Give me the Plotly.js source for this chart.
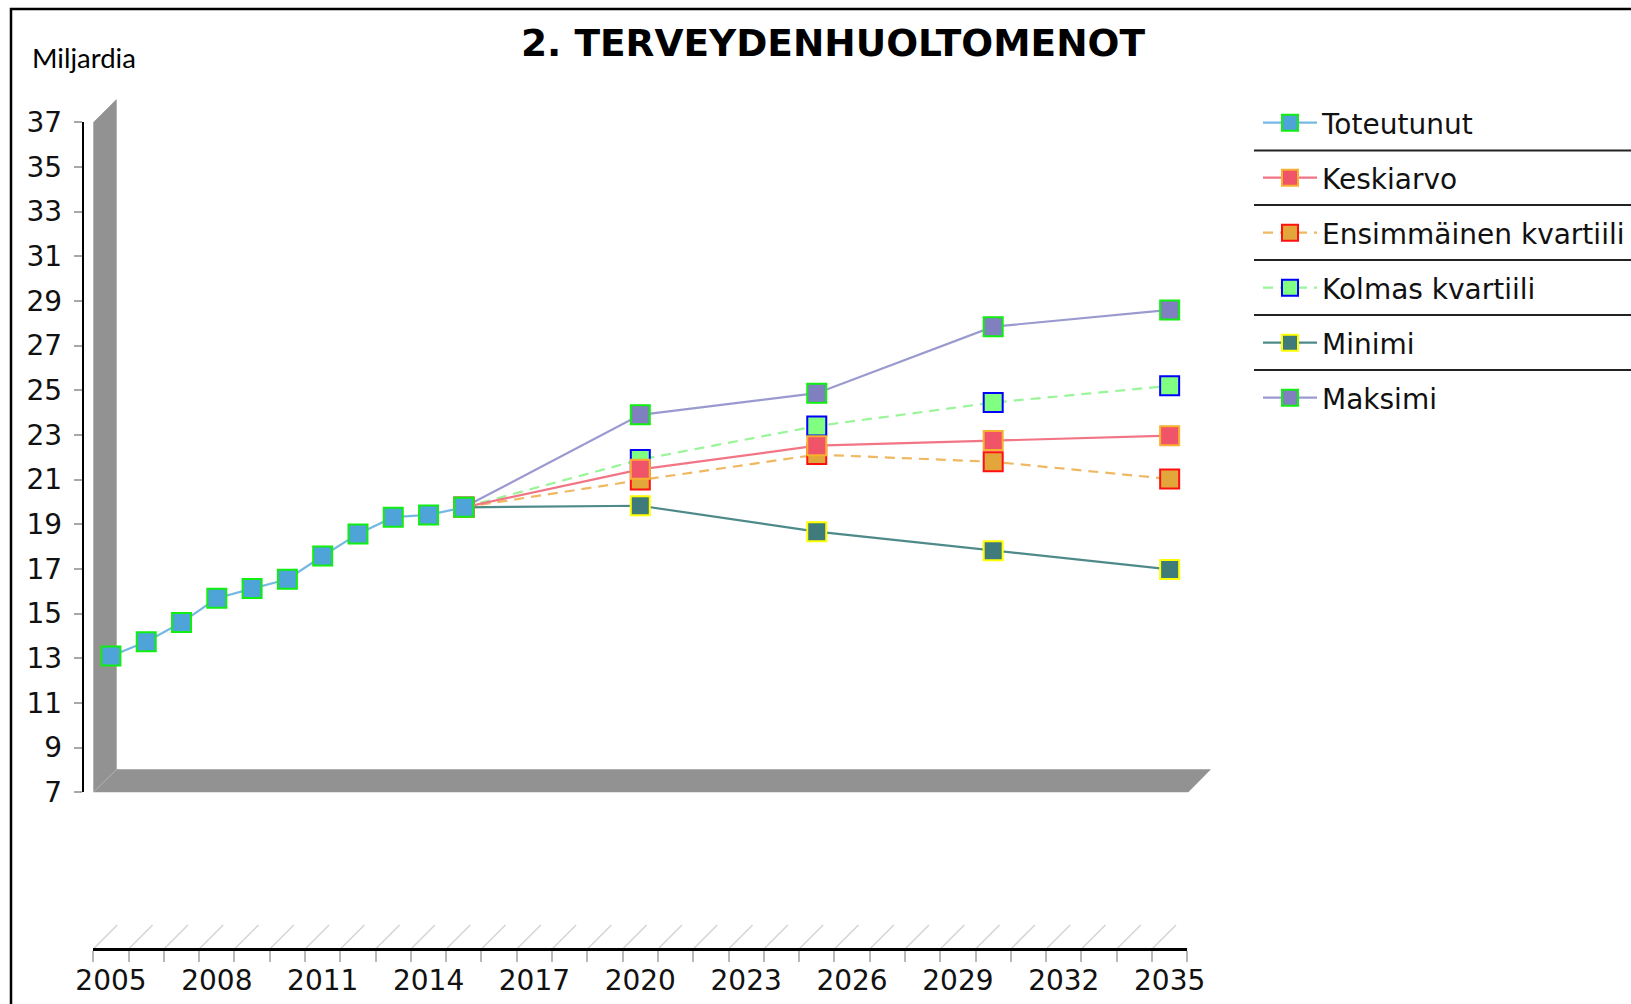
<!DOCTYPE html>
<html>
<head>
<meta charset="utf-8">
<script src="https://cdn.plot.ly/plotly-3.0.1.min.js"></script>
<style>html,body{margin:0;padding:0;background:#fff;}#chart{width:1631px;height:1004px;}</style>
</head>
<body>
<div id="chart"></div>
<script>
// ---- data ----
const actualYears = [2005, 2006, 2007, 2008, 2009, 2010, 2011, 2012, 2013, 2014, 2015];
const actualValues = [13.10, 13.74, 14.60, 15.69, 16.12, 16.54, 17.58, 18.57, 19.32, 19.42, 19.76];
const futureYears = [2020, 2025, 2030, 2035];
const meanValues = [21.46, 22.52, 22.75, 22.97];
const firstQuartile = [20.98, 22.12, 21.80, 21.03];
const thirdQuartile = [21.90, 23.40, 24.45, 25.20];
const minValues = [19.83, 18.67, 17.82, 16.98];
const maxValues = [23.90, 24.87, 27.85, 28.60];
const xTickYears = [2005, 2008, 2011, 2014, 2017, 2020, 2023, 2026, 2029, 2032, 2035];
const yTickValues = [7, 9, 11, 13, 15, 17, 19, 21, 23, 25, 27, 29, 31, 33, 35, 37];
const seriesNames = ['Toteutunut', 'Keskiarvo', 'Ensimmäinen kvartiili', 'Kolmas kvartiili', 'Minimi', 'Maksimi'];

// ---- geometry helpers (pixels -> paper) ----
const W = 1631, H = 1004;
const px = x => x / W;
const py = y => 1 - y / H;
const FONT = 'DejaVu Sans, Verdana, sans-serif';

// projections start from the last actual point
const lastYear = actualYears[actualYears.length - 1];
const lastVal = actualValues[actualValues.length - 1];
const projX = [lastYear].concat(futureYears);
const proj = arr => [lastVal].concat(arr);

function series(name, x, y, fill, border, lineColor, dash, rank) {
  return {
    type: 'scatter', mode: 'lines+markers', name: name, x: x, y: y,
    line: {color: lineColor, width: 2.2, dash: dash},
    marker: {symbol: 'square', size: 19, color: fill, line: {color: border, width: 2}},
    legendrank: rank, legendgroup: name, cliponaxis: false,
    hoverinfo: 'x+y+name'
  };
}

const traces = [
  series(seriesNames[4], projX, proj(minValues), '#3f7b7b', '#ffff00', '#4f8a8a', 'solid', 5),
  series(seriesNames[5], projX, proj(maxValues), '#8080c0', '#11ee11', '#9a9ad0', 'solid', 6),
  series(seriesNames[3], projX, proj(thirdQuartile), '#80ff80', '#0000ff', '#98f598', '10px,7px', 4),
  series(seriesNames[2], projX, proj(firstQuartile), '#e3a63b', '#ff1010', '#efb862', '10px,7px', 3),
  series(seriesNames[1], projX, proj(meanValues), '#f05468', '#f8b030', '#f27585', 'solid', 2),
  series(seriesNames[0], actualYears, actualValues, '#4ea3d8', '#11ee11', '#76b8e4', 'solid', 1)
];

// ---- decorative shapes ----
const shapes = [];
// 3D wall + floor
shapes.push({
  type: 'path', xref: 'paper', yref: 'paper', layer: 'below',
  path: `M ${px(93.3)},${py(792.3)} L ${px(93.3)},${py(122.3)} L ${px(116.7)},${py(99)} L ${px(116.7)},${py(769.3)} L ${px(1211)},${py(769.3)} L ${px(1188.3)},${py(792.3)} Z`,
  fillcolor: '#929292', line: {width: 0}
});
shapes.push({type: 'line', xref: 'paper', yref: 'paper', layer: 'below',
  x0: px(93.8), y0: py(791.8), x1: px(116.7), y1: py(769.3), line: {color: '#b4b4b4', width: 1}});
// slanted category lines above the x axis
for (let b = 2004.5; b <= 2035.5; b += 1) {
  shapes.push({type: 'line', layer: 'below', xref: 'x', yref: 'paper',
    xsizemode: 'pixel', xanchor: b, x0: 0, x1: 24,
    ysizemode: 'pixel', yanchor: py(949), y0: 0, y1: 24,
    line: {color: '#d4d4d4', width: 1.5}});
}
// legend separators
[150.5, 205, 260, 315, 370].forEach(y => {
  shapes.push({type: 'line', xref: 'paper', yref: 'paper', layer: 'above',
    x0: px(1254), x1: 1.01, y0: py(y), y1: py(y), line: {color: '#222', width: 2}});
});
// page border (left + top)
shapes.push({type: 'path', xref: 'paper', yref: 'paper', layer: 'above',
  path: `M ${px(11)},-0.05 L ${px(11)},${py(9)} L 1.05,${py(9)}`,
  line: {color: '#000', width: 2.5}});

const layout = {
  width: W, height: H,
  margin: {l: 0, r: 0, t: 0, b: 0, autoexpand: false},
  paper_bgcolor: '#ffffff', plot_bgcolor: 'rgba(0,0,0,0)',
  font: {family: FONT, color: '#111'},
  title: {
    text: '<b>2. TERVEYDENHUOLTOMENOT</b>',
    font: {family: FONT, size: 37.5, color: '#000'},
    x: px(833), xref: 'paper', xanchor: 'center',
    y: py(43), yref: 'container', yanchor: 'middle'
  },
  xaxis: {
    domain: [px(93.3), px(1187.3)], range: [2004.5, 2035.5],
    anchor: 'free', position: py(949),
    showline: true, linecolor: '#000', linewidth: 2.5,
    showgrid: false, zeroline: false,
    tickmode: 'array', tickvals: xTickYears, ticktext: xTickYears.map(String),
    ticks: '', ticklabelstandoff: 6,
    tickfont: {family: FONT, size: 28, color: '#111'},
    minor: {tickmode: 'linear', tick0: 2004.5, dtick: 1, ticks: 'outside', ticklen: 11,
            tickcolor: '#b8b8b8', tickwidth: 1.5, showgrid: false}
  },
  yaxis: {
    domain: [py(792.3), py(122.3)], range: [7, 37],
    anchor: 'free', position: px(82.7),
    showline: true, linecolor: '#000', linewidth: 2,
    showgrid: false, zeroline: false,
    tickmode: 'array', tickvals: yTickValues,
    ticks: 'outside', ticklen: 8, tickcolor: '#a8a8a8', tickwidth: 1.5,
    ticklabelstandoff: 6,
    tickfont: {family: FONT, size: 28, color: '#111'}
  },
  legend: {
    x: px(1258), xanchor: 'left', y: py(98), yanchor: 'top',
    font: {family: FONT, size: 28, color: '#111'},
    bgcolor: 'rgba(0,0,0,0)', borderwidth: 0,
    traceorder: 'grouped', tracegroupgap: 15.6, itemwidth: 54
  },
  annotations: [{
    text: 'Miljardia', xref: 'paper', yref: 'paper',
    x: px(30), y: py(58), xanchor: 'left', yanchor: 'middle', showarrow: false,
    font: {family: 'Lato, Carlito, sans-serif', size: 27.5, color: '#000'}
  }],
  shapes: shapes,
  showlegend: true
};

Plotly.newPlot('chart', traces, layout, {displayModeBar: false, staticPlot: false});
</script>
</body>
</html>
